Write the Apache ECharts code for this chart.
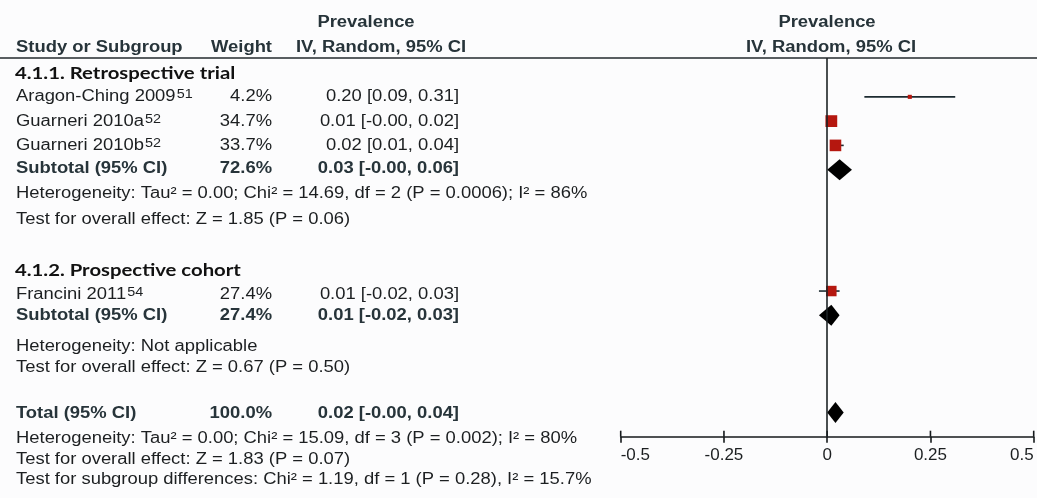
<!DOCTYPE html>
<html><head><meta charset="utf-8">
<script src="https://cdn.jsdelivr.net/npm/echarts@6/dist/echarts.min.js"></script>
<style>html,body{margin:0;padding:0;background:#fcfcfd}#c{width:1037px;height:498px}</style>
</head><body><div id="c"></div>
<script>
// ---------- DATA ----------
const groupNames = ['4.1.1. Retrospective trial', '4.1.2. Prospective cohort'];
const studyNames = ['Aragon-Ching 2009', 'Guarneri 2010a', 'Guarneri 2010b', 'Francini 2011'];
const studyRefs = ['51', '52', '52', '54'];
const studyGroup = [0, 0, 0, 1];
const studyRows = [1, 2, 3, 9];
const studyWeights = [4.2, 34.7, 33.7, 27.4];
const studyEst = [0.20, 0.01, 0.02, 0.01];
const studyLow = [0.09, -0.00, 0.01, -0.02];
const studyHigh = [0.31, 0.02, 0.04, 0.03];
const studyWeightLabels = ['4.2%', '34.7%', '33.7%', '27.4%'];
const studyCiLabels = ['0.20 [0.09, 0.31]', '0.01 [-0.00, 0.02]', '0.02 [0.01, 0.04]', '0.01 [-0.02, 0.03]'];

const pooledNames = ['Subtotal (95% CI)', 'Subtotal (95% CI)', 'Total (95% CI)'];
const pooledRows = [4, 10, 14];
const pooledEst = [0.03, 0.01, 0.02];
const pooledLow = [-0.00, -0.02, -0.00];
const pooledHigh = [0.06, 0.03, 0.04];
const pooledWeightLabels = ['72.6%', '27.4%', '100.0%'];
const pooledCiLabels = ['0.03 [-0.00, 0.06]', '0.01 [-0.02, 0.03]', '0.02 [-0.00, 0.04]'];

const groupHet = ['Heterogeneity: Tau² = 0.00; Chi² = 14.69, df = 2 (P = 0.0006); I² = 86%', 'Heterogeneity: Not applicable'];
const groupTest = ['Test for overall effect: Z = 1.85 (P = 0.06)', 'Test for overall effect: Z = 0.67 (P = 0.50)'];
const totalStats = [
  'Heterogeneity: Tau² = 0.00; Chi² = 15.09, df = 3 (P = 0.002); I² = 80%',
  'Test for overall effect: Z = 1.83 (P = 0.07)',
  'Test for subgroup differences: Chi² = 1.19, df = 1 (P = 0.28), I² = 15.7%'
];
const tickLabels = ['-0.5', '-0.25', '0', '0.25', '0.5'];
const headerMain = 'Prevalence';
const headerSub = 'IV, Random, 95% CI';
const colHeaders = ['Study or Subgroup', 'Weight'];

// ---------- LAYOUT / STYLE ----------
const FONT = 'Liberation Sans';
const FS = 16, SX = 1.15;
const DARK = '#1c1f21', BOLDC = '#27343a';
const X = { name: 16, weightR: 272, ciR: 459, leftHeadC: 366, leftSubC: 381, rightHeadC: 827, rightSubC: 831 };
const Y = {
  head1: 23, head2: 48, rule: 58,
  group: [73, 270],
  study: [97, 122, 146, 295],
  pooled: [169, 316, 414],
  het: [194, 347], test: [219.5, 368],
  total: [439, 460, 480]
};
const GRID = { left: 620.7, right: 3.3, top: 58, bottom: 61.3 };
const Y_MIN = -0.6, Y_MAX = 15;

function txt(x, y, text, o) {
  o = o || {};
  const weight = o.bold ? 'bold' : 'normal';
  const style = {
    text: text, fill: o.color || DARK,
    font: weight + ' ' + (o.size || FS) + 'px "' + (o.family || FONT) + '"',
    textAlign: o.align || 'left', textVerticalAlign: 'middle'
  };
  if (o.rich) style.rich = o.rich;
  return { type: 'text', x: x, y: y, scaleX: o.sx == null ? SX : o.sx, silent: true, style: style };
}

const g = [];
g.push({ type: 'line', silent: true, shape: { x1: 0, y1: Y.rule, x2: 1037, y2: Y.rule }, style: { stroke: '#232a2d', lineWidth: 1.6 } });
g.push(txt(X.leftHeadC, Y.head1, headerMain, { bold: true, align: 'center', color: BOLDC }));
g.push(txt(X.rightHeadC, Y.head1, headerMain, { bold: true, align: 'center', color: BOLDC }));
g.push(txt(X.name, Y.head2, colHeaders[0], { bold: true, color: BOLDC }));
g.push(txt(X.weightR, Y.head2, colHeaders[1], { bold: true, align: 'right', color: BOLDC }));
g.push(txt(X.leftSubC, Y.head2, headerSub, { bold: true, align: 'center', color: BOLDC }));
g.push(txt(X.rightSubC, Y.head2, headerSub, { bold: true, align: 'center', color: BOLDC }));

groupNames.forEach((n, i) => {
  g.push(txt(X.name - 1, Y.group[i], n, { bold: true, family: 'Lato', size: 17.5, sx: 1.16, color: '#111' }));
  g.push(txt(X.name, Y.het[i], groupHet[i]));
  g.push(txt(X.name, Y.test[i], groupTest[i]));
});
studyNames.forEach((n, i) => {
  g.push(txt(X.name, Y.study[i], '{n|' + n + '}{s|' + studyRefs[i] + '}', {
    rich: {
      n: { fontFamily: FONT, fontSize: FS, fill: DARK, lineHeight: 18 },
      s: { fontFamily: FONT, fontSize: 12.5, fill: DARK, verticalAlign: 'top', lineHeight: 10, padding: [0, 0, 0, 1] }
    }
  }));
  g.push(txt(X.weightR, Y.study[i], studyWeightLabels[i], { align: 'right' }));
  g.push(txt(X.ciR, Y.study[i], studyCiLabels[i], { align: 'right' }));
});
pooledNames.forEach((n, i) => {
  g.push(txt(X.name, Y.pooled[i], n, { bold: true, color: BOLDC }));
  g.push(txt(X.weightR, Y.pooled[i], pooledWeightLabels[i], { bold: true, align: 'right', color: BOLDC }));
  g.push(txt(X.ciR, Y.pooled[i], pooledCiLabels[i], { bold: true, align: 'right', color: BOLDC }));
});
totalStats.forEach((s, i) => g.push(txt(X.name, Y.total[i], s)));

// ---------- CHART ----------
const chart = echarts.init(document.getElementById('c'), null, { renderer: 'canvas' });
const tickStyle = { color: '#15191b', width: 1.6 };
const option = {
  backgroundColor: '#fcfcfd',
  animation: false,
  grid: GRID,
  xAxis: {
    type: 'value', min: -0.5, max: 0.5, interval: 0.25, position: 'bottom',
    splitLine: { show: false },
    axisLine: { show: true, onZero: false, lineStyle: tickStyle },
    axisTick: { show: true, inside: false, length: 6, lineStyle: tickStyle },
    axisLabel: {
      show: true, fontFamily: FONT, fontSize: 17, color: DARK, margin: 10,
      alignMinLabel: 'left', alignMaxLabel: 'right',
      formatter: (v, idx) => tickLabels[idx]
    }
  },
  yAxis: { type: 'value', inverse: true, min: Y_MIN, max: Y_MAX, show: false },
  graphic: g,
  series: [
    {
      // upward half of each axis tick (ticks cross the axis line)
      name: 'tickUp', type: 'custom', silent: true,
      encode: { x: 0, y: 1 },
      data: tickLabels.map(t => [parseFloat(t), Y_MAX]),
      renderItem: (params, api) => {
        const p = api.coord([api.value(0), api.value(1)]);
        return { type: 'line', shape: { x1: p[0], y1: p[1], x2: p[0], y2: p[1] - 6 }, style: { stroke: tickStyle.color, lineWidth: tickStyle.width } };
      },
      z: 1
    },
    {
      name: 'ci', type: 'custom',
      encode: { x: [0, 1], y: 2 },
      data: studyNames.map((_, i) => [studyLow[i], studyHigh[i], studyRows[i]]),
      renderItem: (params, api) => {
        const a = api.coord([api.value(0), api.value(2)]);
        const b = api.coord([api.value(1), api.value(2)]);
        return { type: 'line', shape: { x1: a[0], y1: a[1], x2: b[0], y2: b[1] }, style: { stroke: '#1d2b31', lineWidth: 1.6 } };
      },
      markLine: {
        silent: true, symbol: ['none', 'none'], label: { show: false },
        lineStyle: { color: '#1c2225', width: 1.6, type: 'solid' },
        data: [{ xAxis: 0 }]
      },
      z: 2
    },
    {
      name: 'studies', type: 'scatter', symbol: 'rect',
      data: studyNames.map((_, i) => [studyEst[i], studyRows[i], studyWeights[i]]),
      symbolSize: v => 2 * Math.sqrt(v[2]),
      itemStyle: { color: '#b5170f', opacity: 1 },
      z: 3
    },
    {
      name: 'pooled', type: 'custom',
      encode: { x: [0, 1, 2], y: 3 },
      data: pooledNames.map((_, i) => [pooledLow[i], pooledEst[i], pooledHigh[i], pooledRows[i]]),
      renderItem: (params, api) => {
        const r = api.value(3);
        const l = api.coord([api.value(0), r]);
        const c = api.coord([api.value(1), r]);
        const h = api.coord([api.value(2), r]);
        const hh = 10.5;
        return { type: 'polygon', shape: { points: [[l[0], l[1]], [c[0], c[1] - hh], [h[0], h[1]], [c[0], c[1] + hh]] }, style: { fill: '#000' } };
      },
      z: 4
    }
  ]
};
chart.setOption(option);
</script>
</body></html>
